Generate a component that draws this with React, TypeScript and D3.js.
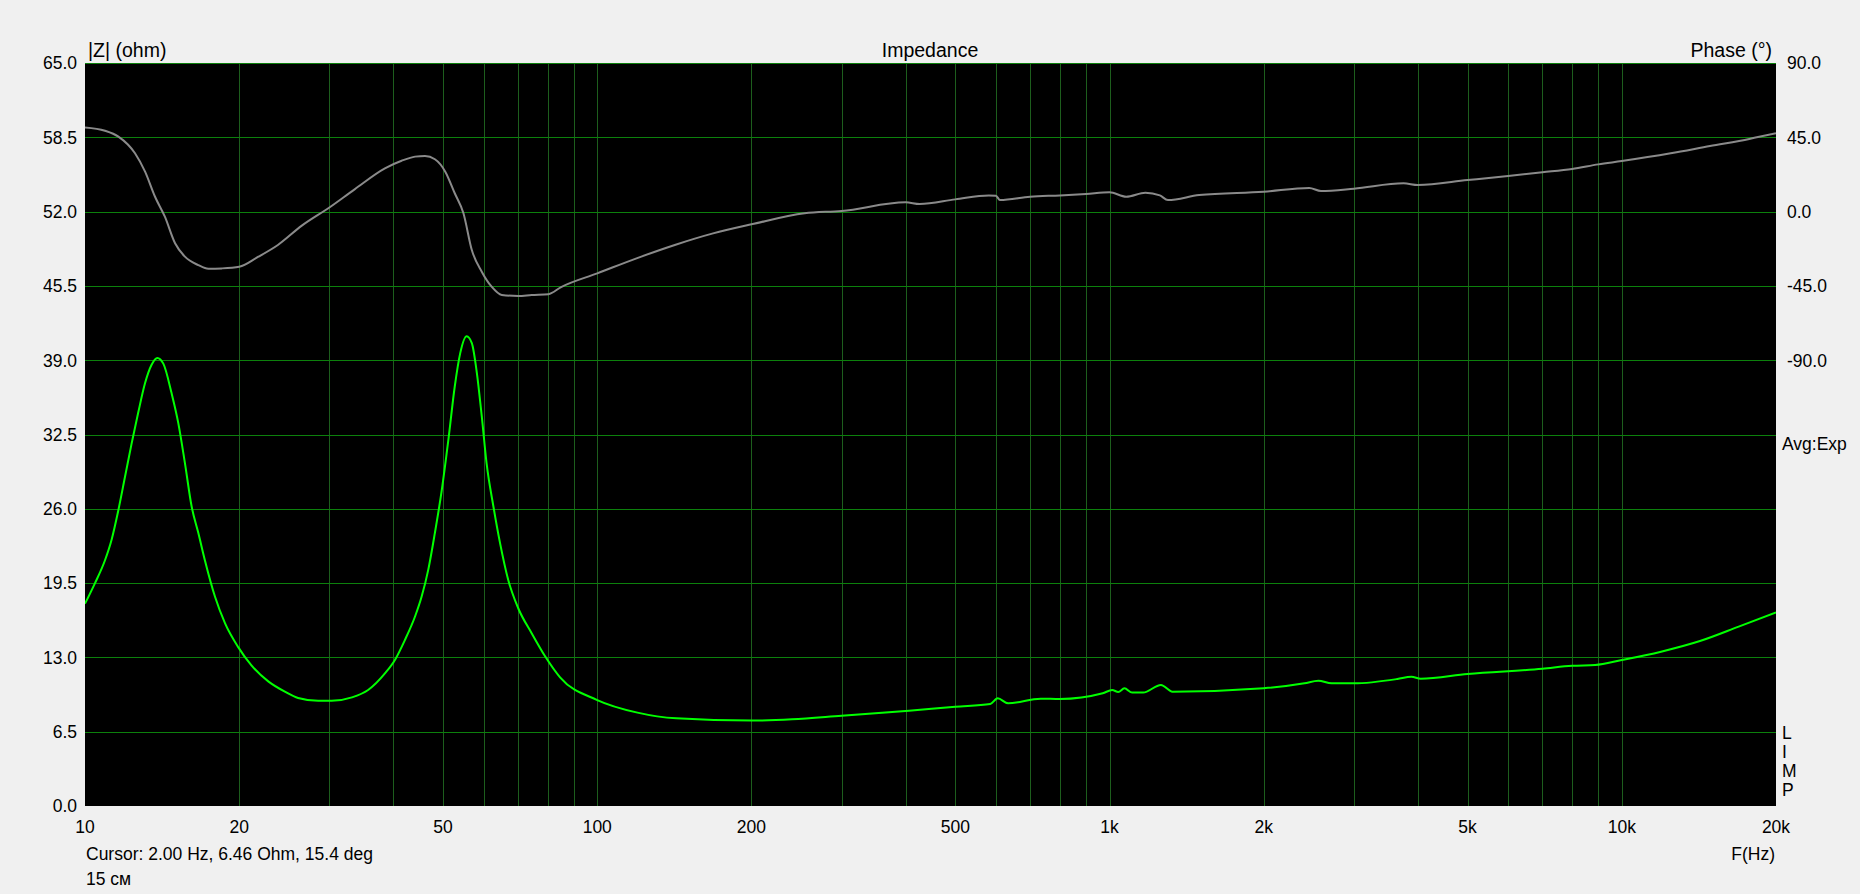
import { useEffect } from 'react'
import * as d3 from 'd3'

// impedance magnitude |Z| (ohm)
const zFreq = [10, 10.46, 10.94, 11.27, 11.62, 11.97, 12.33, 12.7, 13.1, 13.49, 13.84, 14.22, 14.76, 15.21, 15.67, 16.15, 16.64, 17.14, 17.94, 18.76, 19.91, 21.13, 22.79, 24.56, 26.06, 28.52, 30.3, 33.2, 35.7, 38.5, 40.3, 42.1, 44.1, 45.4, 46.8, 48.2, 49.7, 51.2, 52.7, 54, 55.6, 56.9, 58.2, 59.5, 60.8, 62.7, 64.6, 67, 70.1, 74.5, 79.1, 84.6, 100, 119.8, 142.6, 200, 240, 300, 406, 500, 585, 605, 634, 734, 800, 970, 1012, 1040, 1069, 1107, 1163, 1260, 1327, 2000, 2402, 2557, 2713, 3000, 3648, 3884, 4050, 5000, 7000, 8000, 8870, 10000, 11930, 14210, 16910, 20000]
const zOhm = [17.7, 19.5, 21.5, 23.3, 25.9, 28.8, 31.7, 34.4, 37.0, 38.6, 39.2, 38.7, 36.1, 33.5, 30.0, 26.2, 23.9, 21.5, 18.3, 16.0, 13.9, 12.3, 10.9, 10.0, 9.45, 9.2, 9.2, 9.5, 10.15, 11.6, 12.8, 14.5, 16.6, 18.3, 20.7, 23.9, 27.6, 32.0, 36.7, 39.6, 41.1, 40.5, 37.9, 34.1, 30.0, 26.2, 23.0, 19.8, 17.3, 15.1, 13.1, 11.26, 9.27, 8.17, 7.67, 7.47, 7.58, 7.9, 8.34, 8.69, 8.92, 9.42, 8.98, 9.39, 9.36, 9.86, 10.15, 9.97, 10.3, 9.92, 9.92, 10.59, 10.0, 10.3, 10.73, 10.96, 10.73, 10.73, 11.11, 11.31, 11.14, 11.55, 12.01, 12.27, 12.33, 12.77, 13.5, 14.43, 15.69, 16.94]

// phase (deg)
const phFreq = [10, 10.94, 11.62, 12.52, 13.1, 13.7, 14.32, 14.99, 15.67, 16.64, 17.41, 18.49, 20, 21.8, 23.8, 26.5, 30, 33.6, 38.5, 41.5, 44.1, 46.1, 48.2, 50.5, 52.7, 54.8, 56.9, 59.5, 62.2, 65.1, 70.1, 74.5, 80.3, 85, 100, 119.3, 141.7, 168.3, 200, 254, 300, 400, 426, 500, 581, 600, 611, 700, 800, 900, 1000, 1078, 1175, 1254, 1300, 1496, 2000, 2454, 2587, 3000, 3750, 4000, 5000, 6000, 7000, 8000, 9000, 10000, 12460, 14860, 17740, 20000]
const phDeg = [51.0, 49.0, 45.4, 35.3, 24.2, 9.0, -3.1, -19.2, -27.3, -32.4, -34.6, -34.4, -33.4, -27.3, -20.2, -8.5, 2.5, 13.5, 26.2, 30.8, 33.3, 33.7, 31.7, 24.2, 11.1, -1.0, -23.3, -36.4, -45.5, -50.5, -51.1, -50.5, -50.0, -45.7, -37.4, -28.3, -20.2, -13.2, -7.7, -1.0, 0.4, 5.6, 4.6, 7.4, 9.8, 9.6, 7.0, 9.0, 9.8, 10.7, 11.7, 9.0, 11.4, 9.8, 7.0, 10.0, 12.05, 14.3, 12.5, 13.9, 17.1, 16.1, 19.1, 21.6, 23.8, 25.8, 28.6, 30.6, 35.3, 39.7, 44.0, 47.4]

const zTicks = [0, 6.5, 13, 19.5, 26, 32.5, 39, 45.5, 52, 58.5, 65]
const phTicks = [90, 45, 0, -45, -90]
const fTicks = [10, 20, 50, 100, 200, 500, 1000, 2000, 5000, 10000, 20000]
const fTickLabels = ['10', '20', '50', '100', '200', '500', '1k', '2k', '5k', '10k', '20k']
const fGrid = [20, 30, 40, 50, 60, 70, 80, 90, 100, 200, 300, 400, 500, 600, 700, 800, 900, 1000, 2000, 3000, 4000, 5000, 6000, 7000, 8000, 9000, 10000]
const sideLetters = ['L', 'I', 'M', 'P']

const W = 1860, H = 894
const L = 85, R = 1776, T = 63, B = 806
const FONT = '"Liberation Sans", Arial, sans-serif'

export default function App() {
  useEffect(() => { document.body.style.margin = '0' }, [])

  const x = d3.scaleLog().domain([10, 20000]).range([L, R])
  const yZ = d3.scaleLinear().domain([0, 65]).range([B, T])
  const yP = d3.scaleLinear().domain([-360, 90]).range([B, T])

  const zLine = d3.line<number>().x((_, i) => x(zFreq[i])).y(d => yZ(d)).curve(d3.curveMonotoneX)
  const pLine = d3.line<number>().x((_, i) => x(phFreq[i])).y(d => yP(d)).curve(d3.curveMonotoneX)

  return (
    <svg width={W} height={H} style={{ display: 'block' }} fontFamily={FONT} fontSize={17.5} fill="#000">
      <rect width={W} height={H} fill="#f0f0f0" />
      <defs>
        <clipPath id="plot"><rect x={L} y={T} width={R - L} height={B - T} /></clipPath>
      </defs>
      <rect x={L} y={T} width={R - L} height={B - T} fill="#000" />
      <g clipPath="url(#plot)">
        {fGrid.map(f => (
          <line key={'v' + f} x1={Math.round(x(f)) + 0.5} x2={Math.round(x(f)) + 0.5} y1={T} y2={B} stroke="#1d5e1d" />
        ))}
        {zTicks.map(t => (
          <line key={'h' + t} x1={L} x2={R} y1={Math.round(yZ(t)) + 0.5} y2={Math.round(yZ(t)) + 0.5} stroke="#0c800c" />
        ))}
        <path d={pLine(phDeg) ?? ''} fill="none" stroke="#8a8a8a" strokeWidth={2} />
        <path d={zLine(zOhm) ?? ''} fill="none" stroke="#00ff00" strokeWidth={2} />
      </g>

      {zTicks.map(t => (
        <text key={'zl' + t} x={77} y={yZ(t)} dy="0.36em" textAnchor="end">{t.toFixed(1)}</text>
      ))}
      {phTicks.map(t => (
        <text key={'pl' + t} x={1787} y={yP(t)} dy="0.36em">{t.toFixed(1)}</text>
      ))}
      {fTicks.map((f, i) => (
        <text key={'fl' + f} x={x(f)} y={833} textAnchor="middle">{fTickLabels[i]}</text>
      ))}

      <g fontSize={19.5}>
        <text x={88} y={57}>|Z| (ohm)</text>
        <text x={930} y={57} textAnchor="middle">Impedance</text>
        <text x={1772} y={57} textAnchor="end">Phase (°)</text>
      </g>
      <text x={1782} y={450}>Avg:Exp</text>
      {sideLetters.map((s, i) => (
        <text key={s} x={1782} y={739 + i * 19}>{s}</text>
      ))}
      <text x={86} y={860}>Cursor: 2.00 Hz, 6.46 Ohm, 15.4 deg</text>
      <text x={86} y={885}>15 см</text>
      <text x={1775} y={860} textAnchor="end">F(Hz)</text>
    </svg>
  )
}
